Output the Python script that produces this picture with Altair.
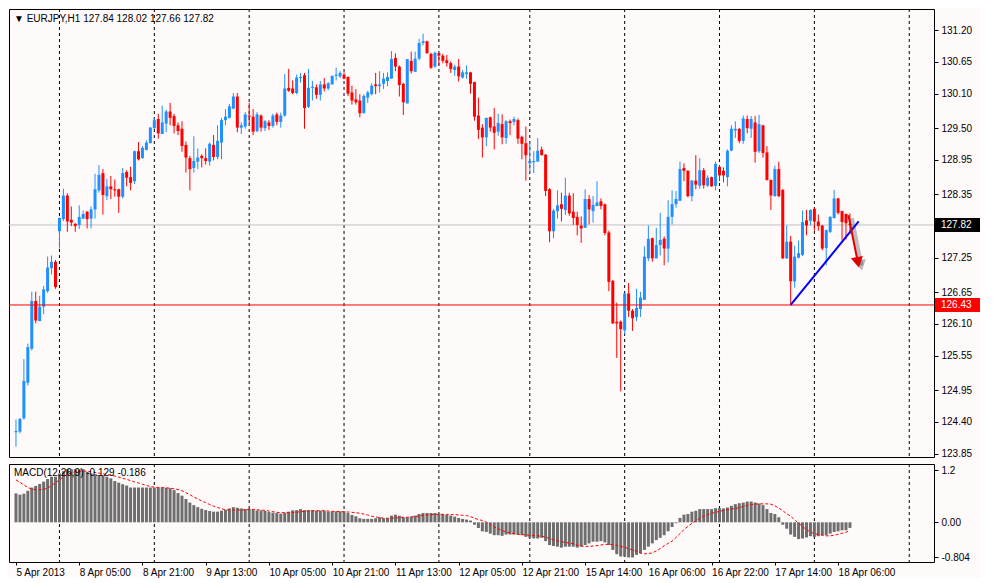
import json
import altair as alt
import pandas as pd

# ---------------- data ----------------
opens = [
    124.22, 124.23, 124.46, 125.08, 125.67, 126.50, 126.15, 126.40, 126.67, 127.07,
    127.18, 127.71, 127.92, 128.33, 127.91, 127.84, 127.82, 127.93, 128.05, 127.93,
    128.09, 128.42, 128.72, 128.32, 128.49, 128.44, 128.44, 128.31, 128.74, 128.65,
    128.58, 129.10, 128.98, 129.12, 129.24, 129.50, 129.66, 129.40, 129.58, 129.79,
    129.71, 129.55, 129.49, 129.21, 128.98, 128.81, 128.92, 129.02, 128.98, 128.92,
    129.21, 129.00, 129.25, 129.64, 129.68, 129.84, 130.05, 129.51, 129.53, 129.72,
    129.70, 129.45, 129.72, 129.50, 129.60, 129.54, 129.74, 129.61, 129.72, 130.20,
    130.19, 130.11, 130.37, 130.42, 129.87, 130.20, 130.21, 130.08, 130.26, 130.19,
    130.26, 130.41, 130.40, 130.43, 130.39, 130.12, 130.00, 129.98, 129.76, 130.03,
    130.09, 130.26, 130.23, 130.27, 130.32, 130.36, 130.72, 130.57, 130.27, 129.93,
    130.67, 130.48, 130.71, 130.98, 131.01, 130.79, 130.57, 130.80, 130.76, 130.68,
    130.63, 130.51, 130.57, 130.38, 130.44, 130.47, 130.30, 129.72, 129.51, 129.34,
    129.69, 129.53, 129.44, 129.57, 129.33, 129.62, 129.61, 129.64, 129.35, 129.24,
    128.89, 128.91, 128.92, 129.13, 129.04, 128.44, 127.71, 128.06, 128.18, 128.08,
    128.33, 128.05, 127.96, 127.81, 127.77, 128.27, 128.06, 128.15, 128.23, 128.18,
    127.69, 126.85, 126.14, 126.14, 125.99, 126.63, 126.33, 126.22, 126.36, 126.52,
    127.24, 127.59, 127.24, 127.47, 127.58, 127.41, 127.96, 128.18, 128.24, 128.81,
    128.76, 128.32, 128.59, 128.50, 128.77, 128.50, 128.65, 128.50, 128.83, 128.76,
    128.65, 129.11, 129.46, 129.49, 129.28, 129.66, 129.49, 129.60, 129.10, 129.55,
    129.08, 128.60, 128.32, 128.79, 128.43, 127.24, 127.53, 126.84, 127.25, 127.30,
    127.90, 127.89, 128.10, 127.88, 127.81, 127.42, 127.70, 127.94, 128.28, 128.06,
    128.01, 127.84,
]
highs = [
    124.44, 124.47, 125.49, 125.76, 126.66, 126.66, 126.59, 126.76, 127.27, 127.29,
    127.21, 127.95, 128.45, 128.37, 128.14, 127.85, 128.16, 128.07, 128.06, 128.14,
    128.71, 128.86, 128.79, 128.62, 128.67, 128.61, 128.45, 128.81, 128.77, 128.83,
    129.11, 129.26, 129.19, 129.29, 129.52, 129.68, 129.75, 129.89, 129.82, 129.94,
    129.75, 129.60, 129.62, 129.27, 129.02, 129.36, 129.15, 129.05, 129.15, 129.25,
    129.38, 129.55, 129.68, 129.83, 129.92, 130.11, 130.11, 129.60, 129.78, 129.94,
    129.83, 129.78, 129.74, 129.64, 129.64, 129.75, 129.77, 129.77, 130.44, 130.53,
    130.33, 130.43, 130.46, 130.46, 130.53, 130.32, 130.26, 130.32, 130.37, 130.30,
    130.41, 130.55, 130.49, 130.47, 130.40, 130.24, 130.18, 130.09, 130.09, 130.15,
    130.28, 130.46, 130.49, 130.46, 130.47, 130.84, 130.80, 130.59, 130.29, 130.70,
    130.83, 130.83, 131.05, 131.14, 131.02, 130.81, 130.83, 130.81, 130.79, 130.77,
    130.66, 130.60, 130.70, 130.51, 130.59, 130.48, 130.31, 130.03, 129.57, 129.68,
    129.70, 129.85, 129.75, 129.74, 129.64, 129.65, 129.70, 129.67, 129.37, 129.53,
    129.25, 129.10, 129.33, 129.18, 129.05, 128.46, 128.10, 128.42, 128.38, 128.64,
    128.38, 128.37, 128.05, 127.97, 128.44, 128.34, 128.32, 128.58, 128.28, 128.19,
    127.72, 126.86, 126.47, 126.16, 126.64, 126.81, 126.36, 126.71, 126.66, 127.45,
    127.81, 127.60, 127.77, 128.03, 127.62, 128.25, 128.42, 128.41, 128.92, 128.89,
    128.77, 128.60, 129.03, 128.98, 128.81, 128.68, 128.66, 128.92, 128.86, 128.82,
    129.13, 129.55, 129.62, 129.50, 129.72, 129.72, 129.71, 129.71, 129.73, 129.56,
    129.19, 128.61, 128.85, 128.92, 128.44, 127.81, 127.63, 127.46, 127.55, 128.07,
    128.08, 128.09, 128.11, 128.00, 127.82, 127.74, 127.97, 128.43, 128.29, 128.07,
    128.02, 128.02,
]
lows = [
    123.97, 124.20, 124.44, 125.03, 125.64, 126.11, 126.15, 126.27, 126.64, 126.96,
    126.71, 127.41, 127.89, 127.70, 127.80, 127.70, 127.75, 127.92, 127.76, 127.76,
    127.93, 128.38, 128.00, 128.25, 128.27, 128.31, 128.03, 128.28, 128.49, 128.42,
    128.53, 128.94, 128.97, 129.12, 129.24, 129.49, 129.32, 129.40, 129.43, 129.55,
    129.41, 129.38, 129.09, 128.73, 128.42, 128.73, 128.79, 128.82, 128.87, 128.85,
    128.94, 128.96, 128.96, 129.55, 129.67, 129.83, 129.43, 129.40, 129.49, 129.58,
    129.38, 129.43, 129.44, 129.45, 129.47, 129.51, 129.55, 129.51, 129.70, 130.13,
    130.09, 130.09, 130.29, 129.49, 129.85, 129.98, 130.01, 129.98, 130.14, 130.16,
    130.26, 130.33, 130.37, 130.35, 130.06, 129.91, 129.91, 129.69, 129.76, 129.94,
    130.07, 130.09, 130.12, 130.18, 130.23, 130.36, 130.49, 130.05, 129.73, 129.93,
    130.45, 130.48, 130.68, 130.94, 130.80, 130.53, 130.55, 130.60, 130.63, 130.57,
    130.46, 130.41, 130.31, 130.36, 130.36, 130.10, 129.63, 129.31, 128.99, 129.19,
    129.44, 129.13, 129.37, 129.22, 129.23, 129.38, 129.55, 129.23, 128.96, 128.59,
    128.73, 128.72, 128.92, 129.03, 128.32, 127.52, 127.59, 127.93, 127.88, 127.99,
    127.98, 127.82, 127.64, 127.51, 127.77, 127.83, 127.86, 128.14, 128.09, 127.64,
    126.67, 126.10, 125.51, 124.93, 125.92, 126.22, 125.98, 126.15, 126.22, 126.52,
    127.19, 127.18, 127.24, 127.29, 127.12, 127.17, 127.83, 128.12, 128.24, 128.58,
    128.30, 128.23, 128.44, 128.45, 128.45, 128.48, 128.48, 128.42, 128.58, 128.56,
    128.49, 129.10, 129.33, 129.24, 129.23, 129.41, 129.33, 128.90, 129.07, 128.99,
    128.59, 128.08, 128.31, 128.30, 127.23, 127.23, 126.43, 126.73, 127.24, 127.28,
    127.64, 127.81, 127.72, 127.72, 127.38, 127.12, 127.68, 127.93, 128.00, 127.55,
    127.57, 127.66,
]
closes = [
    124.24, 124.45, 125.11, 125.70, 126.50, 126.16, 126.40, 126.70, 127.08, 127.18,
    126.74, 127.94, 128.33, 127.88, 127.86, 127.80, 127.96, 128.01, 127.92, 128.09,
    128.44, 128.69, 128.34, 128.49, 128.44, 128.42, 128.31, 128.72, 128.64, 128.55,
    129.10, 128.96, 129.16, 129.25, 129.51, 129.64, 129.41, 129.60, 129.79, 129.68,
    129.54, 129.45, 129.19, 128.99, 128.79, 128.93, 128.99, 128.98, 128.93, 129.23,
    129.00, 129.28, 129.64, 129.70, 129.88, 130.05, 129.51, 129.55, 129.74, 129.70,
    129.44, 129.74, 129.51, 129.62, 129.54, 129.72, 129.61, 129.72, 130.19, 130.15,
    130.11, 130.38, 130.39, 129.85, 130.20, 130.22, 130.08, 130.26, 130.19, 130.28,
    130.41, 130.43, 130.46, 130.36, 130.10, 129.98, 129.95, 129.76, 130.06, 130.12,
    130.24, 130.23, 130.26, 130.36, 130.39, 130.70, 130.57, 130.25, 129.95, 130.70,
    130.49, 130.71, 130.98, 131.01, 130.80, 130.55, 130.81, 130.76, 130.67, 130.63,
    130.53, 130.57, 130.40, 130.47, 130.47, 130.27, 129.70, 129.47, 129.34, 129.68,
    129.51, 129.42, 129.59, 129.34, 129.62, 129.59, 129.66, 129.32, 129.23, 129.03,
    128.93, 128.93, 129.11, 129.03, 128.41, 127.71, 128.07, 128.16, 128.10, 128.33,
    128.02, 127.94, 127.82, 127.76, 128.27, 128.09, 128.17, 128.21, 128.15, 127.68,
    126.83, 126.11, 126.11, 126.01, 126.63, 126.33, 126.20, 126.38, 126.56, 127.27,
    127.58, 127.24, 127.47, 127.56, 127.41, 127.96, 128.18, 128.27, 128.79, 128.76,
    128.32, 128.59, 128.52, 128.77, 128.51, 128.64, 128.49, 128.88, 128.68, 128.68,
    129.11, 129.49, 129.49, 129.28, 129.67, 129.50, 129.66, 129.09, 129.57, 129.07,
    128.60, 128.33, 128.79, 128.32, 127.24, 127.53, 126.84, 127.27, 127.33, 127.87,
    127.81, 128.08, 127.88, 127.80, 127.41, 127.73, 127.96, 128.28, 128.03, 127.87,
    127.85, 127.82,
]
macd_hist = [
    0.666, 0.636, 0.658, 0.726, 0.801, 0.839, 0.884, 0.937, 0.997, 1.050,
    1.050, 1.125, 1.178, 1.223, 1.223, 1.223, 1.223, 1.223, 1.163, 1.125,
    1.110, 1.087, 1.072, 1.050, 1.012, 0.952, 0.914, 0.877, 0.847, 0.801,
    0.801, 0.801, 0.801, 0.801, 0.801, 0.801, 0.801, 0.801, 0.794, 0.786,
    0.741, 0.673, 0.613, 0.538, 0.455, 0.395, 0.350, 0.312, 0.282, 0.260,
    0.245, 0.245, 0.267, 0.290, 0.320, 0.350, 0.335, 0.320, 0.305, 0.312,
    0.290, 0.275, 0.275, 0.260, 0.237, 0.222, 0.214, 0.199, 0.222, 0.245,
    0.275, 0.280, 0.305, 0.282, 0.282, 0.282, 0.267, 0.267, 0.267, 0.244,
    0.252, 0.252, 0.252, 0.252, 0.214, 0.171, 0.139, 0.094, 0.079, 0.079,
    0.079, 0.094, 0.116, 0.094, 0.094, 0.154, 0.177, 0.154, 0.116, 0.116,
    0.131, 0.154, 0.192, 0.214, 0.214, 0.214, 0.214, 0.192, 0.192, 0.169,
    0.154, 0.131, 0.101, 0.079, 0.064, 0.041, -0.056, -0.131, -0.207, -0.222,
    -0.260, -0.297, -0.297, -0.312, -0.282, -0.282, -0.282, -0.282, -0.297, -0.335,
    -0.357, -0.372, -0.372, -0.357, -0.433, -0.523, -0.546, -0.561, -0.583, -0.561,
    -0.561, -0.561, -0.583, -0.561, -0.523, -0.485, -0.447, -0.447, -0.433, -0.463,
    -0.523, -0.636, -0.734, -0.787, -0.787, -0.809, -0.809, -0.749, -0.711, -0.636,
    -0.561, -0.485, -0.410, -0.357, -0.297, -0.207, -0.109, -0.019, 0.102, 0.177,
    0.192, 0.244, 0.267, 0.305, 0.305, 0.305, 0.305, 0.327, 0.327, 0.320,
    0.342, 0.380, 0.418, 0.440, 0.455, 0.478, 0.478, 0.455, 0.433, 0.395,
    0.305, 0.214, 0.192, 0.116, -0.056, -0.147, -0.282, -0.335, -0.387, -0.372,
    -0.350, -0.320, -0.335, -0.320, -0.297, -0.297, -0.260, -0.222, -0.207, -0.184,
    -0.184, -0.129,
]
macd_signal = [
    0.975, 0.922, 0.861, 0.801, 0.764, 0.749, 0.749, 0.764, 0.786, 0.847,
    0.914, 0.975, 1.050, 1.102, 1.140, 1.163, 1.178, 1.178, 1.178, 1.163,
    1.148, 1.133, 1.117, 1.102, 1.087, 1.065, 1.042, 1.012, 0.990, 0.960,
    0.929, 0.907, 0.877, 0.847, 0.824, 0.809, 0.801, 0.801, 0.794, 0.786,
    0.771, 0.756, 0.726, 0.681, 0.636, 0.583, 0.538, 0.493, 0.455, 0.410,
    0.373, 0.342, 0.312, 0.290, 0.282, 0.282, 0.282, 0.282, 0.290, 0.297,
    0.297, 0.290, 0.282, 0.275, 0.260, 0.245, 0.230, 0.222, 0.222, 0.222,
    0.230, 0.234, 0.244, 0.252, 0.259, 0.267, 0.267, 0.267, 0.267, 0.259,
    0.252, 0.252, 0.244, 0.244, 0.237, 0.230, 0.222, 0.207, 0.192, 0.169,
    0.139, 0.124, 0.109, 0.094, 0.094, 0.094, 0.101, 0.109, 0.116, 0.116,
    0.124, 0.131, 0.146, 0.162, 0.169, 0.177, 0.184, 0.184, 0.184, 0.184,
    0.177, 0.177, 0.169, 0.162, 0.154, 0.131, 0.094, 0.064, 0.041, 0.004,
    -0.049, -0.109, -0.147, -0.192, -0.222, -0.245, -0.260, -0.275, -0.282, -0.290,
    -0.297, -0.305, -0.312, -0.320, -0.342, -0.372, -0.402, -0.425, -0.447, -0.463,
    -0.478, -0.493, -0.525, -0.545, -0.555, -0.553, -0.546, -0.538, -0.523, -0.508,
    -0.508, -0.516, -0.531, -0.553, -0.576, -0.606, -0.636, -0.666, -0.711, -0.726,
    -0.719, -0.704, -0.659, -0.606, -0.538, -0.485, -0.433, -0.350, -0.260, -0.169,
    -0.094, -0.026, 0.034, 0.094, 0.139, 0.177, 0.207, 0.230, 0.252, 0.275,
    0.290, 0.305, 0.320, 0.335, 0.365, 0.388, 0.410, 0.418, 0.425, 0.425,
    0.425, 0.418, 0.380, 0.327, 0.267, 0.199, 0.139, 0.056, -0.019, -0.094,
    -0.169, -0.222, -0.260, -0.282, -0.297, -0.312, -0.312, -0.297, -0.275, -0.252,
    -0.230, -0.186,
]
separator_bars = [11, 35, 59, 83, 107, 130, 154, 178, 202, 226]
date_label_bars = [0, 16, 32, 48, 64, 80, 96, 112, 128, 144, 160, 176, 192, 208]
date_labels = ["5 Apr 2013", "8 Apr 05:00", "8 Apr 21:00", "9 Apr 13:00",
               "10 Apr 05:00", "10 Apr 21:00", "11 Apr 13:00", "12 Apr 05:00",
               "12 Apr 21:00", "15 Apr 14:00", "16 Apr 06:00", "16 Apr 22:00",
               "17 Apr 14:00", "18 Apr 06:00"]
price_ticks = [131.20, 130.65, 130.10, 129.50, 128.95, 128.35, 127.25,
               126.65, 126.10, 125.55, 124.95, 124.40, 123.85]
bid_price = 127.82
level_price = 126.43
trend_bars = [196, 213.2]
trend_prices = [126.43, 127.88]
arrow_bars = [210.6, 213.0]
arrow_prices = [127.99, 127.17]
macd_ticks = [1.2, 0.0, -0.804]
macd_tick_labels = ["1.2", "0.00", "-0.804"]
title_text = "\u25BC EURJPY,H1  127.84 128.02 127.66 127.82"
macd_text = "MACD(12,26,9) -0.129 -0.186"

# ---------------- layout / style ----------------
W = 925
H_MAIN = 448
H_MACD = 98
FONT = "Liberation Sans"
FS = 10
BLUE = "#1E90FF"
RED = "#FF0000"
X_DOMAIN = [-0.5, 231.0]
PRICE_DOMAIN = [123.79, 131.57]
MACD_DOMAIN = [-0.914, 1.343]
BOX_PATH = "M-1,-0.3111H1V0.3111H-1Z"

candles = pd.DataFrame({"bar": list(range(len(closes))), "open": opens,
                        "high": highs, "low": lows, "close": closes})
macd_df = pd.DataFrame({"bar": list(range(len(macd_hist))), "hist": macd_hist,
                        "signal": macd_signal})
sep_df = pd.DataFrame({"bar": separator_bars})
bid_df = pd.DataFrame({"price": [bid_price], "label": [f"{bid_price:.2f}"]})
level_df = pd.DataFrame({"price": [level_price], "label": [f"{level_price:.2f}"]})
trend_df = pd.DataFrame({"bar": trend_bars, "price": trend_prices})
arrow_df = pd.DataFrame({"bar": arrow_bars, "price": arrow_prices})
arrow_head_df = arrow_df.tail(1)
title_df = pd.DataFrame({"t": [title_text]})
macd_title_df = pd.DataFrame({"t": [macd_text]})

xs = alt.Scale(domain=X_DOMAIN, nice=False, zero=False)
ps = alt.Scale(domain=PRICE_DOMAIN, nice=False, zero=False)
ms = alt.Scale(domain=MACD_DOMAIN, nice=False, zero=False)

axis_common = dict(domain=False, grid=False, title=None, labelFont=FONT, labelFontSize=FS,
                   labelColor="black", tickColor="black", labelOverlap=False)
price_axis = alt.Axis(orient="right", values=price_ticks, format=".2f", tickSize=4,
                      labelPadding=3, **axis_common)
date_expr = f"{json.dumps(date_labels)}[indexof({json.dumps(date_label_bars)}, datum.value)]"
date_axis = alt.Axis(orient="bottom", values=date_label_bars, labelExpr=date_expr,
                     labelAlign="left", tickSize=3, labelPadding=2, labelFlush=False,
                     **axis_common)
macd_expr = f"{json.dumps(macd_tick_labels)}[indexof({json.dumps(macd_ticks)}, datum.value)]"
macd_axis = alt.Axis(orient="right", values=macd_ticks, labelExpr=macd_expr, tickSize=4,
                     labelPadding=3, **axis_common)


def XM(field="bar"):
    return alt.X(f"{field}:Q", scale=xs, axis=None, title=None)


def YP(field):
    return alt.Y(f"{field}:Q", scale=ps, axis=price_axis, title=None)


def XD(field="bar"):
    return alt.X(f"{field}:Q", scale=xs, axis=date_axis, title=None)


def YM(field):
    return alt.Y(f"{field}:Q", scale=ms, axis=macd_axis, title=None)


color_enc = alt.Color("dir:N", scale=alt.Scale(domain=["up", "down"], range=[BLUE, RED]),
                      legend=None)

sep_main = alt.Chart(sep_df).mark_rule(color="black", strokeDash=[3, 3], strokeWidth=1).encode(
    x=XM())
bid_line = alt.Chart(bid_df).mark_rule(color="#C0C0C0", strokeWidth=1).encode(y=YP("price"))
wicks = alt.Chart(candles).transform_calculate(
    dir="datum.close >= datum.open ? 'up' : 'down'"
).mark_rule(strokeWidth=1).encode(x=XM(), y=YP("low"), y2="high:Q", color=color_enc)
bodies = alt.Chart(candles).transform_calculate(
    dir="datum.close >= datum.open ? 'up' : 'down'"
).mark_bar(size=3).encode(x=XM(), y=YP("open"), y2="close:Q", color=color_enc)
level_line = alt.Chart(level_df).mark_rule(color=RED, strokeWidth=1).encode(y=YP("price"))
trend = alt.Chart(trend_df).mark_line(color="#0000FF", strokeWidth=2).encode(
    x=XM(), y=YP("price"))
arrow_shadow = alt.Chart(arrow_df).mark_line(color="#333333", opacity=0.3, strokeWidth=5,
                                             xOffset=3, yOffset=3).encode(x=XM(), y=YP("price"))
arrow_line = alt.Chart(arrow_df).mark_line(color="#E00000", strokeWidth=2).encode(
    x=XM(), y=YP("price"))
arrow_head_shadow = alt.Chart(arrow_head_df).mark_point(
    shape="triangle-down", size=150, filled=True, color="#333333", opacity=0.35,
    angle=349, xOffset=3, yOffset=3).encode(x=XM(), y=YP("price"))
arrow_head = alt.Chart(arrow_head_df).mark_point(
    shape="triangle-down", size=150, filled=True, color="#E00000", opacity=1,
    angle=349).encode(x=XM(), y=YP("price"))
title_mark = alt.Chart(title_df).mark_text(align="left", baseline="middle", font=FONT,
                                           fontSize=FS, color="black").encode(
    text="t:N", x=alt.value(5), y=alt.value(10))


def price_box(df, fill):
    box = alt.Chart(df).mark_point(shape=BOX_PATH, size=2025, filled=True, color=fill,
                                   opacity=1).encode(x=alt.value(W + 23.5), y=YP("price"))
    txt = alt.Chart(df).mark_text(align="left", baseline="middle", font=FONT, fontSize=FS,
                                  color="white").encode(
        x=alt.value(W + 7), y=YP("price"), text="label:N")
    return [box, txt]


main = alt.layer(
    sep_main, bid_line, wicks, bodies, level_line, trend,
    arrow_shadow, arrow_head_shadow, arrow_line, arrow_head,
    title_mark, *price_box(bid_df, "#000000"), *price_box(level_df, RED),
).properties(width=W, height=H_MAIN)

# ---------------- MACD panel ----------------
sep_macd = alt.Chart(sep_df).mark_rule(color="black", strokeDash=[3, 3], strokeWidth=1).encode(
    x=XD())
hist = alt.Chart(macd_df).mark_bar(size=3, color="#6E6E6E").encode(
    x=XD(), y=YM("hist"), y2=alt.datum(0))
signal = alt.Chart(macd_df).mark_line(color=RED, strokeDash=[3, 2], strokeWidth=1).encode(
    x=XD(), y=YM("signal"))
macd_title = alt.Chart(macd_title_df).mark_text(align="left", baseline="middle", font=FONT,
                                                fontSize=FS, color="black").encode(
    text="t:N", x=alt.value(5), y=alt.value(9))

macd = alt.layer(sep_macd, hist, signal, macd_title).properties(width=W, height=H_MACD)

chart = alt.vconcat(main, macd, spacing=3).resolve_scale(
    x="independent", y="independent"
).properties(padding=0, background="#FFFAFA").configure_view(
    stroke="black", strokeWidth=1, fill="#FFFAFA")

chart.save("out.html", embed_options={"renderer": "svg", "actions": False})
